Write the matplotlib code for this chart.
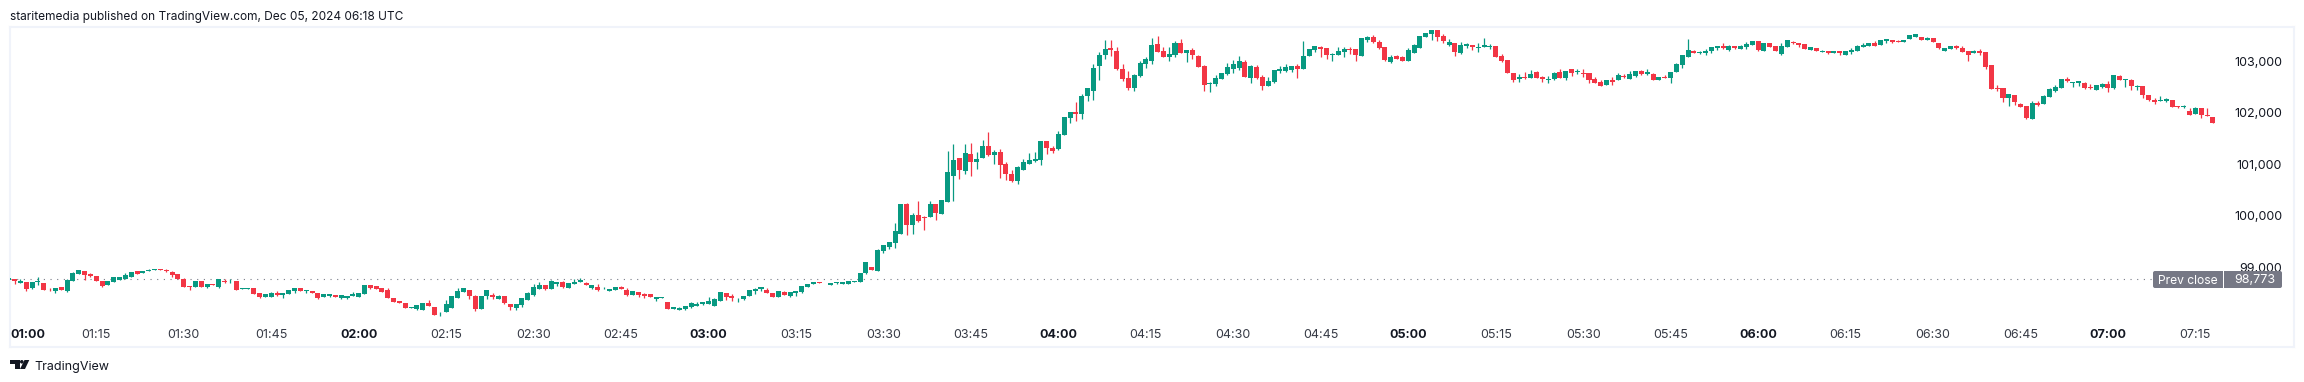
import matplotlib
matplotlib.use("Agg")
import matplotlib.pyplot as plt
from matplotlib.patches import FancyBboxPatch, Rectangle, Circle, Polygon
from matplotlib.transforms import Affine2D

opens = [
98748,98773,98689,98715,98599,98709,98696,98586,98547,98612,
98541,98728,98864,98929,98870,98832,98741,98664,98715,98748,
98773,98819,98929,98883,98922,98955,98968,98955,98916,98870,
98780,98638,98625,98735,98625,98683,98625,98741,98728,98735,
98573,98586,98599,98502,98431,98431,98508,98469,98489,98547,
98599,98547,98547,98502,98431,98450,98463,98411,98411,98450,
98431,98489,98664,98631,98599,98567,98411,98353,98314,98217,
98198,98178,98314,98236,98088,98139,98217,98411,98528,98567,
98450,98198,98450,98469,98392,98450,98295,98217,98275,98372,
98469,98586,98664,98586,98683,98722,98605,98683,98722,98702,
98605,98625,98573,98547,98567,98625,98567,98469,98528,98489,
98489,98392,98411,98334,98198,98178,98198,98236,98256,98295,
98295,98256,98353,98508,98450,98398,98392,98450,98547,98586,
98567,98508,98431,98528,98450,98508,98528,98625,98683,98722,
98702,98664,98702,98683,98683,98722,98722,98896,99013,98935,
99323,99401,99479,99645,100227,99820,100014,99975,99975,100227,
100033,100266,100771,101120,100868,101198,101043,101120,101353,101179,
101237,101004,100810,100674,100887,101004,101062,101081,101450,101314,
101295,101567,101901,102017,101978,102328,102425,102910,103124,103260,
103201,102852,102677,102483,102716,102949,103007,103337,103201,103085,
103124,103357,103162,103221,103104,102910,102554,102561,102658,102755,
102852,102871,102988,102677,102891,102697,102522,102600,102813,102813,
102832,102910,102852,103104,103221,103279,103260,103124,103124,103182,
103240,103240,103104,103415,103473,103376,103279,102988,103104,103085,
103007,103162,103260,103473,103531,103609,103492,103318,103357,103162,
103298,103318,103260,103279,103285,103298,103104,103027,102774,102658,
102697,102677,102794,102697,102645,102658,102794,102677,102852,102794,
102774,102774,102658,102600,102541,102638,102638,102716,102658,102716,
102813,102755,102755,102638,102697,102677,102794,102930,103085,103201,
103162,103162,103201,103260,103298,103221,103298,103240,103279,103318,
103395,103201,103357,103298,103143,103279,103376,103357,103337,103221,
103260,103188,103201,103162,103201,103124,103182,103201,103279,103298,
103357,103318,103395,103415,103395,103376,103434,103473,103473,103415,
103454,103357,103201,103240,103298,103260,103201,103162,103201,103182,
102930,102483,102483,102289,102347,102173,102134,101881,102192,102173,
102308,102425,102483,102658,102587,102580,102580,102503,102444,102503,
102561,102483,102716,102638,102638,102509,102522,102347,102250,102231,
102231,102250,102134,102114,102037,101978,102095,101959,101920,
]

closes = [
98793,98728,98741,98586,98722,98741,98567,98573,98599,98554,
98761,98883,98942,98845,98838,98728,98644,98735,98812,98806,
98845,98909,98870,98929,98955,98968,98942,98929,98858,98773,
98625,98625,98735,98625,98683,98651,98773,98722,98741,98567,
98599,98599,98489,98431,98489,98502,98469,98502,98560,98605,
98541,98560,98508,98411,98482,98482,98431,98463,98443,98489,
98502,98664,98605,98586,98528,98411,98334,98314,98217,98230,
98275,98314,98256,98081,98101,98295,98450,98547,98605,98450,
98198,98450,98567,98431,98450,98314,98236,98295,98411,98508,
98625,98664,98586,98741,98722,98625,98702,98722,98761,98664,
98664,98567,98586,98586,98625,98586,98469,98547,98469,98450,
98431,98431,98431,98198,98236,98217,98256,98314,98295,98334,
98353,98392,98528,98431,98411,98411,98450,98567,98586,98625,
98508,98431,98547,98469,98528,98547,98644,98683,98722,98702,
98689,98702,98722,98722,98741,98741,98896,99110,98955,99343,
99440,99498,99711,100227,99820,100014,99897,99956,100227,100053,
100305,100849,101081,100887,101217,101043,101101,101353,101179,101237,
100984,100810,100674,100946,101043,101081,101101,101450,101314,101256,
101586,101916,102017,101978,102328,102483,102871,103124,103240,103221,
102852,102658,102483,102735,102968,103046,103318,103182,103085,103143,
103357,103162,103221,103124,102891,102541,102580,102677,102774,102891,
102949,103007,102697,102910,102677,102522,102619,102832,102852,102891,
102910,102852,103104,103240,103298,103240,103124,103143,103201,103240,
103221,103124,103454,103473,103376,103260,103027,103085,103046,103007,
103221,103318,103492,103551,103609,103473,103395,103376,103182,103318,
103337,103279,103279,103318,103298,103085,103007,102774,102638,102697,
102677,102755,102677,102658,102658,102774,102677,102813,102774,102813,
102761,102638,102580,102522,102638,102600,102735,102697,102755,102813,
102755,102794,102638,102697,102677,102794,102949,103124,103221,103162,
103182,103201,103279,103298,103260,103298,103260,103298,103337,103395,
103221,103357,103279,103201,103298,103415,103357,103318,103240,103279,
103201,103201,103162,103201,103156,103201,103221,103298,103318,103357,
103298,103415,103434,103376,103382,103415,103512,103531,103415,103454,
103376,103260,103260,103298,103260,103182,103124,103201,103162,102891,
102464,102464,102289,102367,102211,102114,101901,102192,102153,102328,
102464,102503,102658,102619,102600,102619,102483,102483,102541,102561,
102483,102735,102638,102658,102522,102522,102347,102250,102211,102250,
102270,102114,102114,102134,101959,102095,101959,101940,101804,
]

# Wick extremes that reach beyond the candle body, by bar number
upper_wicks = {2:98773,5:98819,7:98605,9:98625,10:98773,11:98903,12:98955,14:98896,20:98890,24:98974,27:98974,28:98935,
30:98793,37:98767,38:98767,45:98521,46:98534,59:98515,65:98605,72:98372,74:98133,75:98372,77:98605,80:98469,83:98508,84:98469,
89:98528,90:98683,91:98722,93:98761,95:98741,97:98780,98:98799,99:98722,101:98683,102:98625,105:98644,106:98605,109:98508,115:98236,
117:98334,118:98334,120:98431,121:98411,124:98489,128:98605,130:98605,133:98547,149:99362,152:99859,154:100247,155:100053,156:100286,157:99995,
158:100286,161:101256,162:101392,164:101392,165:101411,166:101237,167:101470,168:101625,169:101276,170:101295,171:101043,172:100887,173:100965,174:101094,
175:101217,176:101237,179:101353,180:101644,183:102211,184:102367,186:102949,187:103182,188:103415,189:103415,190:103279,191:102949,192:102813,193:102755,
194:103007,195:103085,196:103454,197:103492,198:103279,199:103279,200:103395,201:103434,203:103260,204:103124,205:102930,206:102600,207:102735,209:102968,
210:103027,211:103104,212:103027,213:102930,214:102930,215:102735,216:102697,218:102910,219:102949,221:102949,222:103395,225:103298,227:103162,228:103279,
229:103279,230:103279,233:103492,234:103512,235:103415,237:103124,238:103124,239:103104,240:103260,241:103337,246:103531,247:103434,249:103376,250:103357,
252:103357,253:103454,254:103337,256:103143,259:102755,260:102794,261:102832,262:102813,263:102716,264:102716,265:102794,266:102852,269:102852,270:102852,
272:102697,273:102638,275:102697,276:102774,277:102755,278:102813,280:102832,281:102852,282:102774,284:102735,286:102968,288:103434,289:103221,290:103201,
291:103240,294:103357,295:103318,297:103318,298:103376,304:103357,306:103395,311:103221,316:103260,317:103318,318:103357,320:103395,324:103415,329:103473,
334:103318,335:103298,337:103221,338:103240,341:102541,345:102192,347:102231,348:102231,349:102347,350:102483,351:102541,353:102697,356:102600,357:102561,
359:102580,360:102619,362:102735,364:102658,365:102541,368:102289,369:102328,370:102289,373:102153,374:102095,375:102114,377:102095}

lower_wicks = {1:98683,3:98547,4:98579,5:98651,7:98534,8:98508,10:98515,13:98761,14:98812,16:98625,17:98651,22:98864,27:98903,28:98819,
31:98554,34:98592,36:98605,37:98702,38:98702,43:98411,46:98450,47:98411,48:98476,49:98495,51:98508,53:98392,55:98424,57:98392,58:98392,
62:98586,69:98204,70:98178,74:98062,79:98392,80:98159,82:98392,83:98392,85:98295,86:98178,87:98178,88:98236,90:98450,92:98567,94:98644,95:98605,
100:98586,101:98547,106:98450,108:98431,109:98411,111:98353,116:98178,117:98217,119:98275,123:98372,124:98353,125:98334,126:98372,128:98489,129:98547,
134:98431,135:98450,136:98508,142:98683,147:98877,150:99285,151:99362,152:99373,154:99626,155:99645,156:99878,157:99723,159:99917,162:100286,163:100713,
164:100810,165:100771,166:100907,168:101159,169:101004,170:100732,171:100693,172:100654,173:100616,176:101043,177:100984,178:101198,179:101217,180:101276,
182:101804,183:101843,184:101881,185:102231,186:102250,187:102638,188:103046,189:103104,190:102832,191:102619,192:102444,193:102425,194:102697,195:102871,196:102949,
199:103007,200:103085,202:102988,203:103046,205:102425,206:102405,207:102522,209:102735,210:102774,211:102832,213:102580,214:102658,215:102444,217:102580,218:102774,
219:102794,220:102794,221:102677,224:103182,225:103085,226:103046,227:103007,229:103085,230:103143,231:103007,233:103376,234:103357,235:103240,236:103007,237:102968,
244:103415,245:103395,246:103357,247:103298,248:103104,249:103143,250:103260,251:103221,252:103182,254:103240,256:102988,258:102600,259:102600,260:102658,263:102600,264:102580,
265:102638,267:102638,268:102716,269:102755,270:102697,271:102580,275:102541,277:102677,279:102697,280:102735,281:102735,285:102580,287:102871,290:103143,291:103124,292:103162,
293:103221,294:103240,295:103201,296:103240,298:103240,300:103201,304:103124,306:103337,307:103279,312:103143,314:103124,316:103143,322:103357,323:103357,324:103369,
331:103240,334:103240,336:103007,338:103124,339:102852,341:102425,342:102211,343:102134,344:102153,346:101881,348:102134,351:102405,353:102600,354:102503,355:102522,
356:102464,357:102464,359:102483,360:102405,361:102464,363:102503,364:102444,365:102444,366:102289,367:102231,368:102173,370:102211,372:102095,373:102095,376:101901}

price_ticks = [103000, 102000, 101000, 100000, 99000]
price_labels = ["103,000", "102,000", "101,000", "100,000", "99,000"]
time_labels = ["01:00","01:15","01:30","01:45","02:00","02:15","02:30","02:45","03:00","03:15","03:30","03:45",
               "04:00","04:15","04:30","04:45","05:00","05:15","05:30","05:45","06:00","06:15","06:30","06:45",
               "07:00","07:15"]
prev_close = 98773
minutes_per_label = 15

UP, DOWN = "#089981", "#F23645"
BORDER = "#F0F3FA"
W, H = 2304, 382
plt.rcParams["font.family"] = ["Inter", "DejaVu Sans"]

fig = plt.figure(figsize=(W / 100, H / 100), dpi=100, facecolor="white")
pix = Affine2D().scale(1, -1).translate(0, H)

# plot pane
L, R, T, B = 10, 2294, 27, 347
ax = fig.add_axes([L / W, 1 - B / H, (R - L) / W, (B - T) / H])
SPACING = 5.831
X0 = 8.8
ax.set_xlim((L - X0) / SPACING, (R - X0) / SPACING)
PX_PER_UNIT = 0.0515
ax.set_ylim(prev_close - (B - 279) / PX_PER_UNIT, prev_close + (279 - T) / PX_PER_UNIT)
ax.set_xticks([]); ax.set_yticks([])
for s in ax.spines.values():
    s.set_color(BORDER); s.set_linewidth(1.5)

ax.plot([ax.get_xlim()[0], (2153 - X0) / SPACING], [prev_close] * 2, color="#787B86",
        lw=0.8, ls=(0, (1, 5)), zorder=1)

for i, (o, c) in enumerate(zip(opens, closes)):
    col = UP if c >= o else DOWN
    hi = upper_wicks.get(i, max(o, c))
    lo = lower_wicks.get(i, min(o, c))
    if hi > lo:
        ax.vlines(i, lo, hi, color=col, lw=0.9, zorder=2)
    ax.bar(i, abs(c - o), bottom=min(o, c), width=0.86, color=col, linewidth=0, zorder=3)

# price scale
for p, lab in zip(price_ticks, price_labels):
    ax.text((2282 - X0) / SPACING, p, lab, ha="right", va="center_baseline", fontsize=9, color="#131722", zorder=4)

# time scale
for k, lab in enumerate(time_labels):
    x = k * minutes_per_label
    bold = lab.endswith(":00")
    if k == 0:
        x = (28.3 - X0) / SPACING
    ax.text(x, prev_close - (333 - 279) / PX_PER_UNIT, lab, ha="center", va="center_baseline", fontsize=9,
            fontweight="bold" if bold else "normal", color="#131722" if bold else "#363A45", zorder=4)

# prev close tag
GREY = "#767885"
fig.add_artist(FancyBboxPatch((2155, 273), 125, 13, boxstyle="round,pad=2,rounding_size=2",
                              fc=GREY, ec="none", transform=pix, zorder=5))
fig.add_artist(Rectangle((2223, 271), 1, 17, fc="white", ec="none", transform=pix, zorder=6))
fig.text(2188 / W, 1 - 279.5 / H, "Prev close", ha="center", va="center_baseline", fontsize=8.7, color="white", zorder=7)
fig.text(2254.5 / W, 1 - 278.5 / H, "98,773", ha="center", va="center_baseline", fontsize=9, color="white", zorder=7)

# header and footer
fig.text(10 / W, 1 - 15.5 / H, "staritemedia published on TradingView.com, Dec 05, 2024 06:18 UTC",
         ha="left", va="center_baseline", fontsize=8.55, color="#131722")
fig.text(34 / W, 1 - 365.5 / H, "TradingView", ha="left", va="center_baseline", fontsize=9, color="#131722")
INK = "#131722"
for art in [
    Polygon([(10, 360), (19.5, 360), (19.5, 369), (15, 369), (15, 363.7), (10, 363.7)], fc=INK, ec="none", transform=pix),
    Circle((21.8, 361.8), 1.8, fc=INK, ec="none", transform=pix),
    Polygon([(24.5, 360), (29.3, 360), (25, 369), (20, 369)], fc=INK, ec="none", transform=pix),
]:
    fig.add_artist(art)

fig.savefig("out.png", dpi=100, facecolor="white")
